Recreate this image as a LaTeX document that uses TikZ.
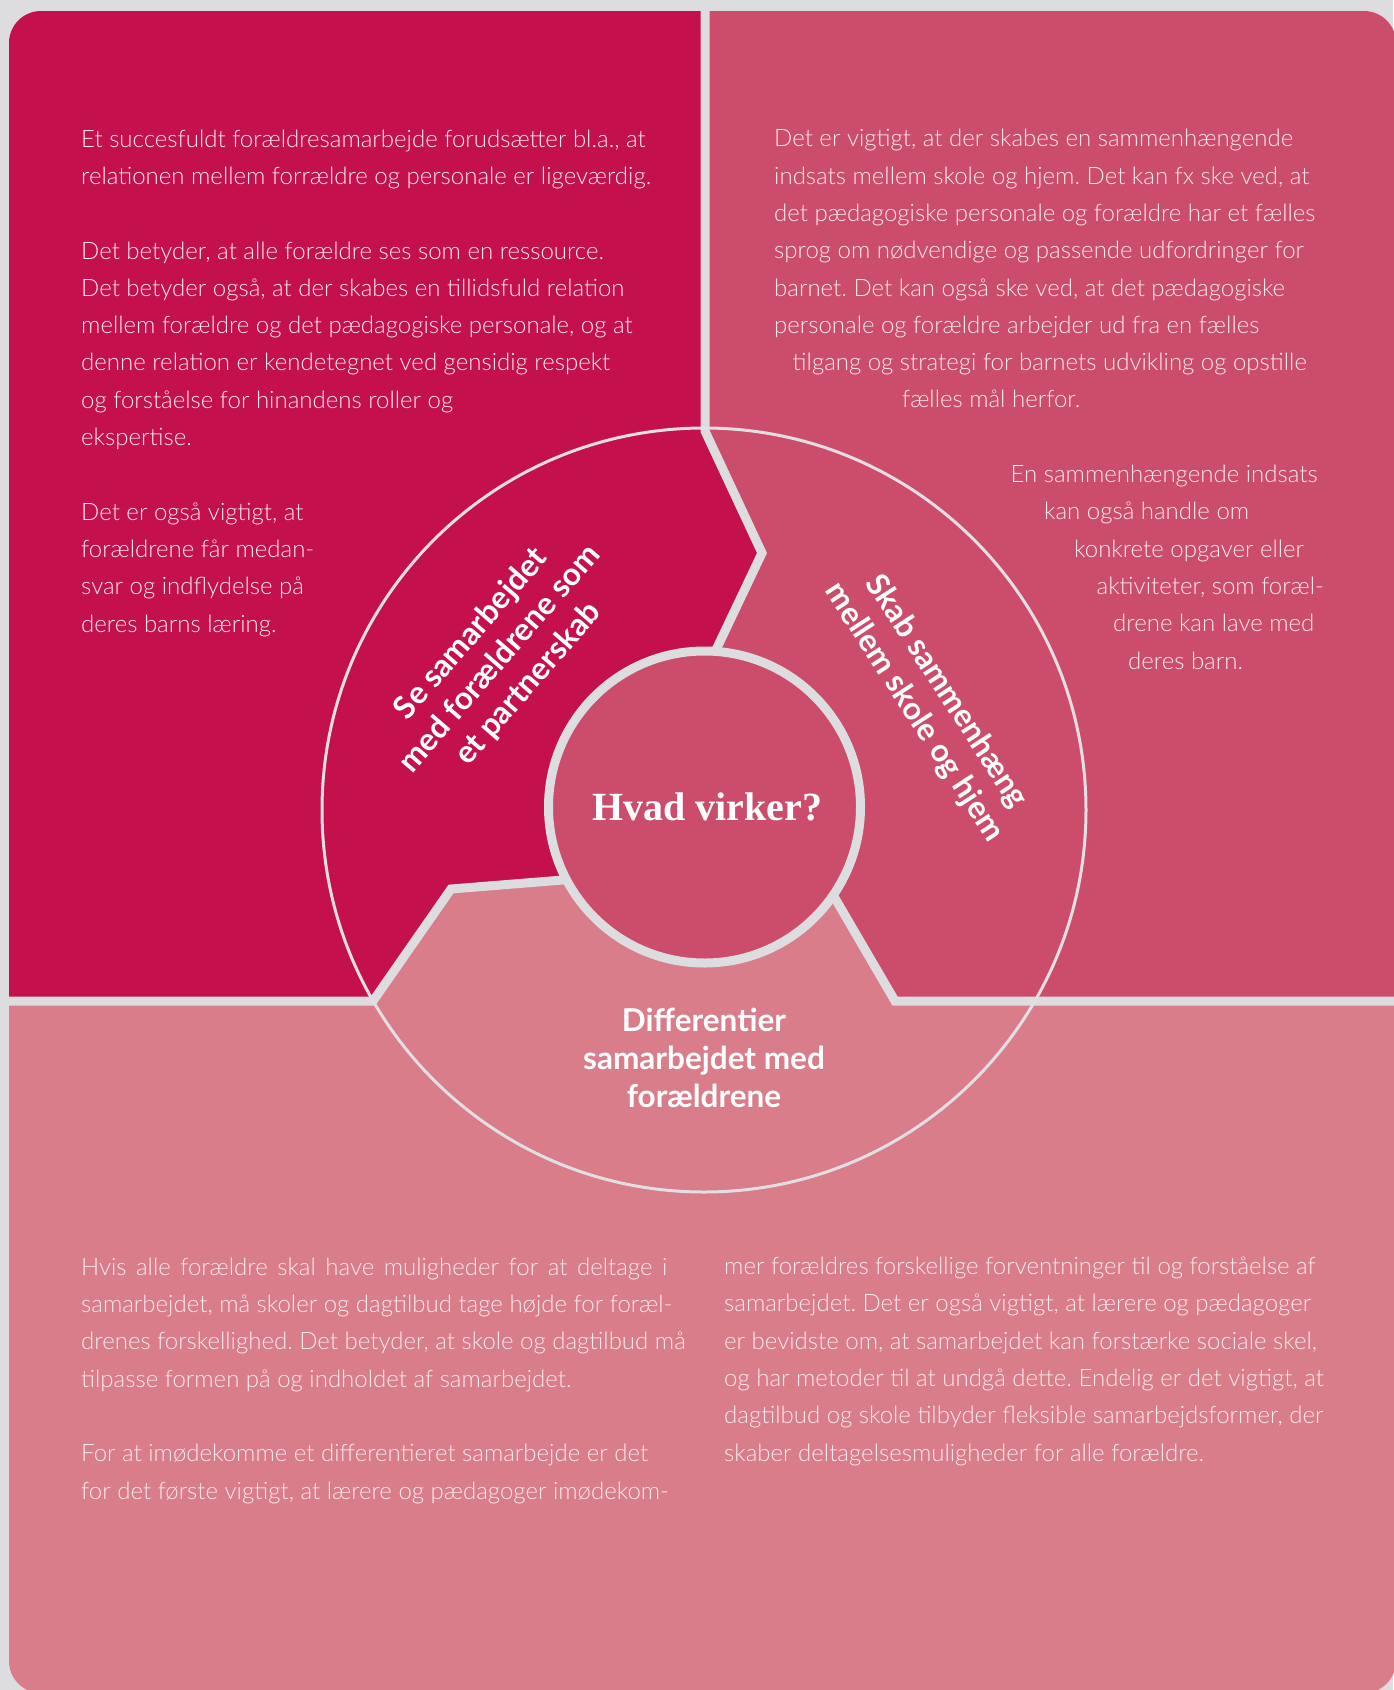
\documentclass[tikz,border=0pt]{standalone}
\usepackage{fontspec}
\newfontfamily\lightfont{Lato Light}
\newfontfamily\labelfont{Lato}
\newfontfamily\titlefont{Liberation Serif}

\definecolor{bgray}{RGB}{221,221,223}
\definecolor{crimson}{RGB}{196,16,76}
\definecolor{rose}{RGB}{204,77,107}
\definecolor{blush}{RGB}{217,125,139}
\definecolor{ringgray}{RGB}{226,222,226}
\definecolor{paletxt}{RGB}{250,234,239}

\tikzset{
  panel text/.style={font=\lightfont\fontsize{24}{37.3}\selectfont\frenchspacing, text=paletxt,
    align=left, inner sep=0pt, anchor=base west},
  segment label/.style={font=\labelfont\bfseries\fontsize{31.5}{38}\selectfont,
    text=white, align=center, inner sep=0pt},
  divider/.style={draw=bgray, line width=9pt, line join=miter},
}

\begin{document}
\begin{tikzpicture}[x=1pt, y=-1pt]
\useasboundingbox (0,0) rectangle (1393,1690);
\fill[bgray] (0,0) rectangle (1393,1690);

% Corner points of the dividers
\coordinate (hubc) at (704.5,807);
\coordinate (ringc) at (704,810);
\coordinate (topa) at (705,431);
\coordinate (topb) at (762,553);
\coordinate (topc) at (705,673);
\coordinate (lefta) at (373,1001);
\coordinate (leftb) at (451,889);
\coordinate (leftc) at (600,877);
\coordinate (righta) at (895,1001);
\coordinate (rightc) at (815,864);

% Panels, each running into its segment of the ring
\begin{scope}
\clip[rounded corners=32] (9,11) rectangle (1396,1693);
\fill[crimson] (0,0) -- (705,0) -- (topa) -- (topb) -- (topc) -- (hubc) -- (leftc) -- (leftb) -- (lefta) -- (0,1001) -- cycle;
\fill[rose] (705,0) -- (1400,0) -- (1400,1001) -- (righta) -- (rightc) -- (hubc) -- (topc) -- (topb) -- (topa) -- cycle;
\fill[blush] (0,1001) -- (lefta) -- (leftb) -- (leftc) -- (hubc) -- (rightc) -- (righta) -- (1400,1001) -- (1400,1700) -- (0,1700) -- cycle;
\end{scope}

% Dividers
\draw[divider] (705,0) -- (topa) -- (topb) -- (topc);
\draw[divider] (0,1001) -- (lefta) -- (leftb) -- (leftc);
\draw[divider] (rightc) -- (righta) -- (1400,1001);

% Ring and centre
\draw[ringgray, line width=3pt] (ringc) circle[radius=382];
\node[circle, fill=rose, draw=bgray, line width=9pt, minimum size=312pt, inner sep=0pt,
  font=\titlefont\bfseries\fontsize{40}{44}\selectfont, text=white] (hub) at (hubc) {\hspace*{6pt}Hvad virker?};

% Segment labels
\node[segment label, rotate=49] (segleft) at (500,659) {Se samarbejdet\\med forældrene som\\et partnerskab};
\node[segment label, rotate=-57] (segright) at (930,702) {Skab sammenhæng\\mellem skole og hjem};
\node[segment label] (segbottom) at (704,1058) {Differentier\\samarbejdet med\\forældrene};

% Panel texts (placed at the baseline of their last line)
\node[panel text] (tltext) at (81,632) {Et succesfuldt forældresamarbejde forudsætter bl.a., at\\
relationen mellem forrældre og personale er ligeværdig.\\[37.3pt]
Det betyder, at alle forældre ses som en ressource.\\
Det betyder også, at der skabes en tillidsfuld relation\\
mellem forældre og det pædagogiske personale, og at\\
denne relation er kendetegnet ved gensidig respekt\\
og forståelse for hinandens roller og\\
ekspertise.\\[37.3pt]
Det er også vigtigt, at\\
forældrene får medan-\\
svar og indflydelse på\\
deres barns læring.};

\node[panel text] (trtext) at (774,669) {Det er vigtigt, at der skabes en sammenhængende\\
indsats mellem skole og hjem. Det kan fx ske ved, at\\
det pædagogiske personale og forældre har et fælles\\
sprog om nødvendige og passende udfordringer for\\
barnet. Det kan også ske ved, at det pædagogiske\\
personale og forældre arbejder ud fra en fælles\\
\hspace*{18.5pt}tilgang og strategi for barnets udvikling og opstille\\
\hspace*{128pt}fælles mål herfor.\\[37.3pt]
\hspace*{236.5pt}En sammenhængende indsats\\
\hspace*{270pt}kan også handle om\\
\hspace*{300pt}konkrete opgaver eller\\
\hspace*{322.5pt}aktiviteter, som foræl-\\
\hspace*{339pt}drene kan lave med\\
\hspace*{354pt}deres barn.};

\node[panel text] (bltext) at (81,1499) {\makebox[586pt][s]{Hvis alle forældre skal have muligheder for at deltage i}\\
samarbejdet, må skoler og dagtilbud tage højde for foræl-\\
drenes forskellighed. Det betyder, at skole og dagtilbud må\\
tilpasse formen på og indholdet af samarbejdet.\\[37.3pt]
For at imødekomme et differentieret samarbejde er det\\
for det første vigtigt, at lærere og pædagoger imødekom-};

\node[panel text] (brtext) at (724,1461) {mer forældres forskellige forventninger til og forståelse af\\
samarbejdet. Det er også vigtigt, at lærere og pædagoger\\
er bevidste om, at samarbejdet kan forstærke sociale skel,\\
og har metoder til at undgå dette. Endelig er det vigtigt, at\\
dagtilbud og skole tilbyder fleksible samarbejdsformer, der\\
skaber deltagelsesmuligheder for alle forældre.};
\end{tikzpicture}
\end{document}
